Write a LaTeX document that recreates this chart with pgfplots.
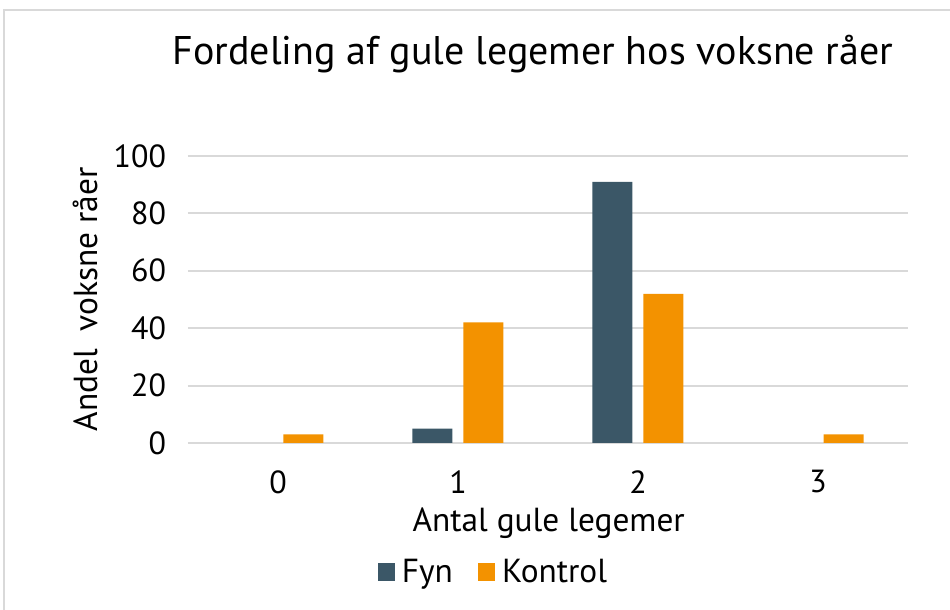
\documentclass[border=0pt]{standalone}
\usepackage{fontspec}
\setmainfont{PT Sans}
\usepackage{pgfplots}
\pgfplotsset{compat=1.18}

\definecolor{fyn}{HTML}{3B5767}
\definecolor{kontrol}{HTML}{F39200}
\definecolor{gridgrey}{HTML}{D9D9D9}

\begin{document}
\begin{tikzpicture}[x=1pt,y=1pt]
% page = 950x610 px, 1px = 0.75pt, axis south west at image (188,443)
\useasboundingbox (-141,-125.25) rectangle (571.5,332.25);
\draw[gridgrey, line width=1pt] (-138,-140) -- (-138,324.75) -- (600,324.75);
\begin{axis}[
  at={(0,0)}, anchor=south west,
  scale only axis,
  width=540pt, height=215.25pt,
  ybar=8.25pt, bar width=30pt,
  xmin=-0.5, xmax=3.5,
  ymin=0, ymax=100,
  xtick={0,1,2,3},
  ytick={0,20,40,60,80,100},
  major tick length=0pt,
  /pgf/number format/assume math mode=true,
  axis line style={draw=none},
  ymajorgrids,
  grid style={gridgrey, line width=1.4pt},
  ticklabel style={font=\fontsize{24}{28}\selectfont},
  yticklabel style={xshift=-13pt},
  xticklabel style={yshift=-17pt},
  title={Fordeling af gule legemer hos voksne råer},
  title style={font=\fontsize{30}{36}\selectfont, at={(axis description cs:0.479,1.3275)}, anchor=center},
  xlabel={Antal gule legemer},
  xlabel style={font=\fontsize{25}{30}\selectfont, at={(axis description cs:0.501,-0.279)}, anchor=center},
  ylabel={Andel \ voksne råer},
  ylabel style={font=\fontsize{25}{30}\selectfont, at={(axis description cs:-0.143,0.5)}, anchor=center, rotate=0},
  legend columns=2,
  legend style={draw=none, fill=none, font=\fontsize{25}{30}\selectfont,
    at={(axis description cs:0.425,-0.4495)}, anchor=center,
    /tikz/every odd column/.append style={column sep=3pt},
    /tikz/every even column/.append style={column sep=17pt}},
  legend image code/.code={\fill[#1] (0pt,-6.4pt) rectangle (12.8pt,6.4pt);},
]
\addplot[fill=fyn, draw=none] coordinates {(1,5) (2,91)};
\addplot[fill=kontrol, draw=none] coordinates {(0,3) (1,42) (2,52) (3,3)};
\legend{Fyn, Kontrol}
\end{axis}
\end{tikzpicture}
\end{document}
